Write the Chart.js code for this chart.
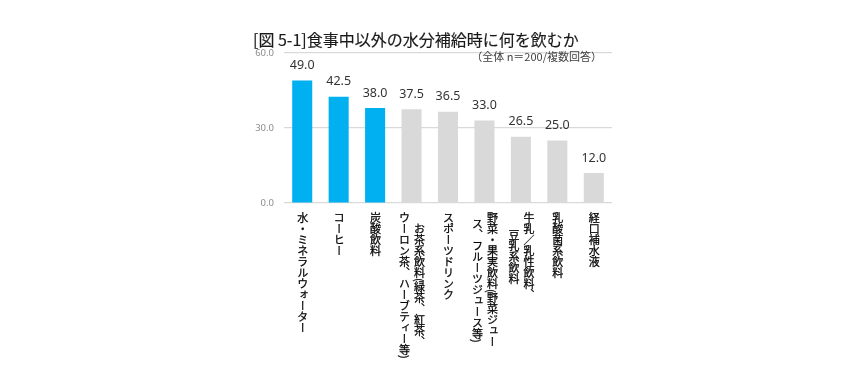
<!DOCTYPE html>
<html lang="ja">
<head>
    <meta charset="UTF-8">
    <title>図 5-1 食事中以外の水分補給時に何を飲むか</title>
    <style>
        body {
            margin: 0;
            background: #fff;
            font-family: "Noto Sans CJK JP", "Noto Sans", sans-serif;
        }
        #wrap {
            position: relative;
            width: 865px;
            height: 384px;
        }
        #title {
            position: absolute;
            left: 253px;
            top: 29px;
            font-size: 16px;
            line-height: 21px;
            color: #1a1a1a;
            -webkit-text-stroke: 0.15px #1a1a1a;
            white-space: nowrap;
        }
        #note {
            position: absolute;
            right: 263px;
            top: 48px;
            font-size: 11px;
            line-height: 16px;
            color: #404040;
            white-space: nowrap;
        }
        .xlabel {
            position: absolute;
            top: 212px;
            writing-mode: vertical-rl;
            text-align: center;
            font-size: 11px;
            line-height: 15px;
            color: #000;
            -webkit-text-stroke: 0.25px #000;
            white-space: nowrap;
            transform: translateX(-50%);
        }
    </style>
    <script src="https://cdn.jsdelivr.net/npm/chart.js"></script>
</head>
<body>
<div id="wrap">
    <canvas id="chart" width="865" height="384"></canvas>
    <div id="title">[図 5-1]食事中以外の水分補給時に何を飲むか</div>
    <div id="note">（全体 n＝200/複数回答）</div>
</div>
<script>
    // データ
    const categories = [
        '水・ミネラルウォーター',
        'コーヒー',
        '炭酸飲料',
        'お茶系飲料(緑茶、紅茶、\nウーロン茶、ハーブティー等)',
        'スポーツドリンク',
        '野菜・果実飲料(野菜ジュー\nス、フルーツジュース等)',
        '牛乳／乳性飲料、\n豆乳系飲料',
        '乳酸菌系飲料',
        '経口補水液'
    ];
    const values = [49.0, 42.5, 38.0, 37.5, 36.5, 33.0, 26.5, 25.0, 12.0];
    const yTicks = [0, 30, 60];

    const BLUE = '#00b0f0';
    const GRAY = '#d9d9d9';

    // 棒の上に数値を描く
    const valueLabels = {
        id: 'valueLabels',
        afterDatasetsDraw(chart) {
            const ctx = chart.ctx;
            const meta = chart.getDatasetMeta(0);
            ctx.save();
            ctx.font = '12.5px "Noto Sans", sans-serif';
            ctx.fillStyle = '#333';
            ctx.textAlign = 'center';
            ctx.textBaseline = 'alphabetic';
            meta.data.forEach((bar, i) => {
                ctx.fillText(values[i].toFixed(1), bar.x, bar.y - 11.5);
            });
            ctx.restore();
        }
    };

    // 縦書きのカテゴリ名（HTML で重ねる）
    const verticalLabels = {
        id: 'verticalLabels',
        afterRender(chart) {
            if (chart._labelsDone) return;
            chart._labelsDone = true;
            const wrap = document.getElementById('wrap');
            const xs = chart.scales.x;
            categories.forEach((cat, i) => {
                const div = document.createElement('div');
                div.className = 'xlabel';
                div.innerHTML = cat.split('\n').join('<br>');
                div.style.left = xs.getPixelForValue(i) + 'px';
                wrap.appendChild(div);
            });
        }
    };

    new Chart(document.getElementById('chart'), {
        type: 'bar',
        data: {
            labels: categories,
            datasets: [{
                data: values,
                backgroundColor: (c) => c.dataIndex < 3 ? BLUE : GRAY,
                categoryPercentage: 1,
                barPercentage: 0.55
            }]
        },
        options: {
            responsive: false,
            animation: false,
            layout: {
                padding: { left: 244, right: 253, top: 53, bottom: 181 }
            },
            plugins: {
                legend: { display: false },
                tooltip: { enabled: false }
            },
            scales: {
                x: {
                    ticks: { display: false },
                    grid: { display: false },
                    border: { display: false },
                    afterFit: (s) => { s.height = 0; }
                },
                y: {
                    min: yTicks[0],
                    max: yTicks[yTicks.length - 1],
                    afterBuildTicks: (s) => { s.ticks = yTicks.map(v => ({ value: v })); },
                    ticks: {
                        padding: 10,
                        color: '#8c8c8c',
                        font: { size: 9.5, family: '"Noto Sans", sans-serif' },
                        callback: (v) => Number(v).toFixed(1)
                    },
                    grid: { color: '#d9d9d9', lineWidth: 1.2, drawTicks: false },
                    border: { display: false },
                    afterFit: (s) => { s.width = 40; }
                }
            }
        },
        plugins: [valueLabels, verticalLabels]
    });
</script>
</body>
</html>
